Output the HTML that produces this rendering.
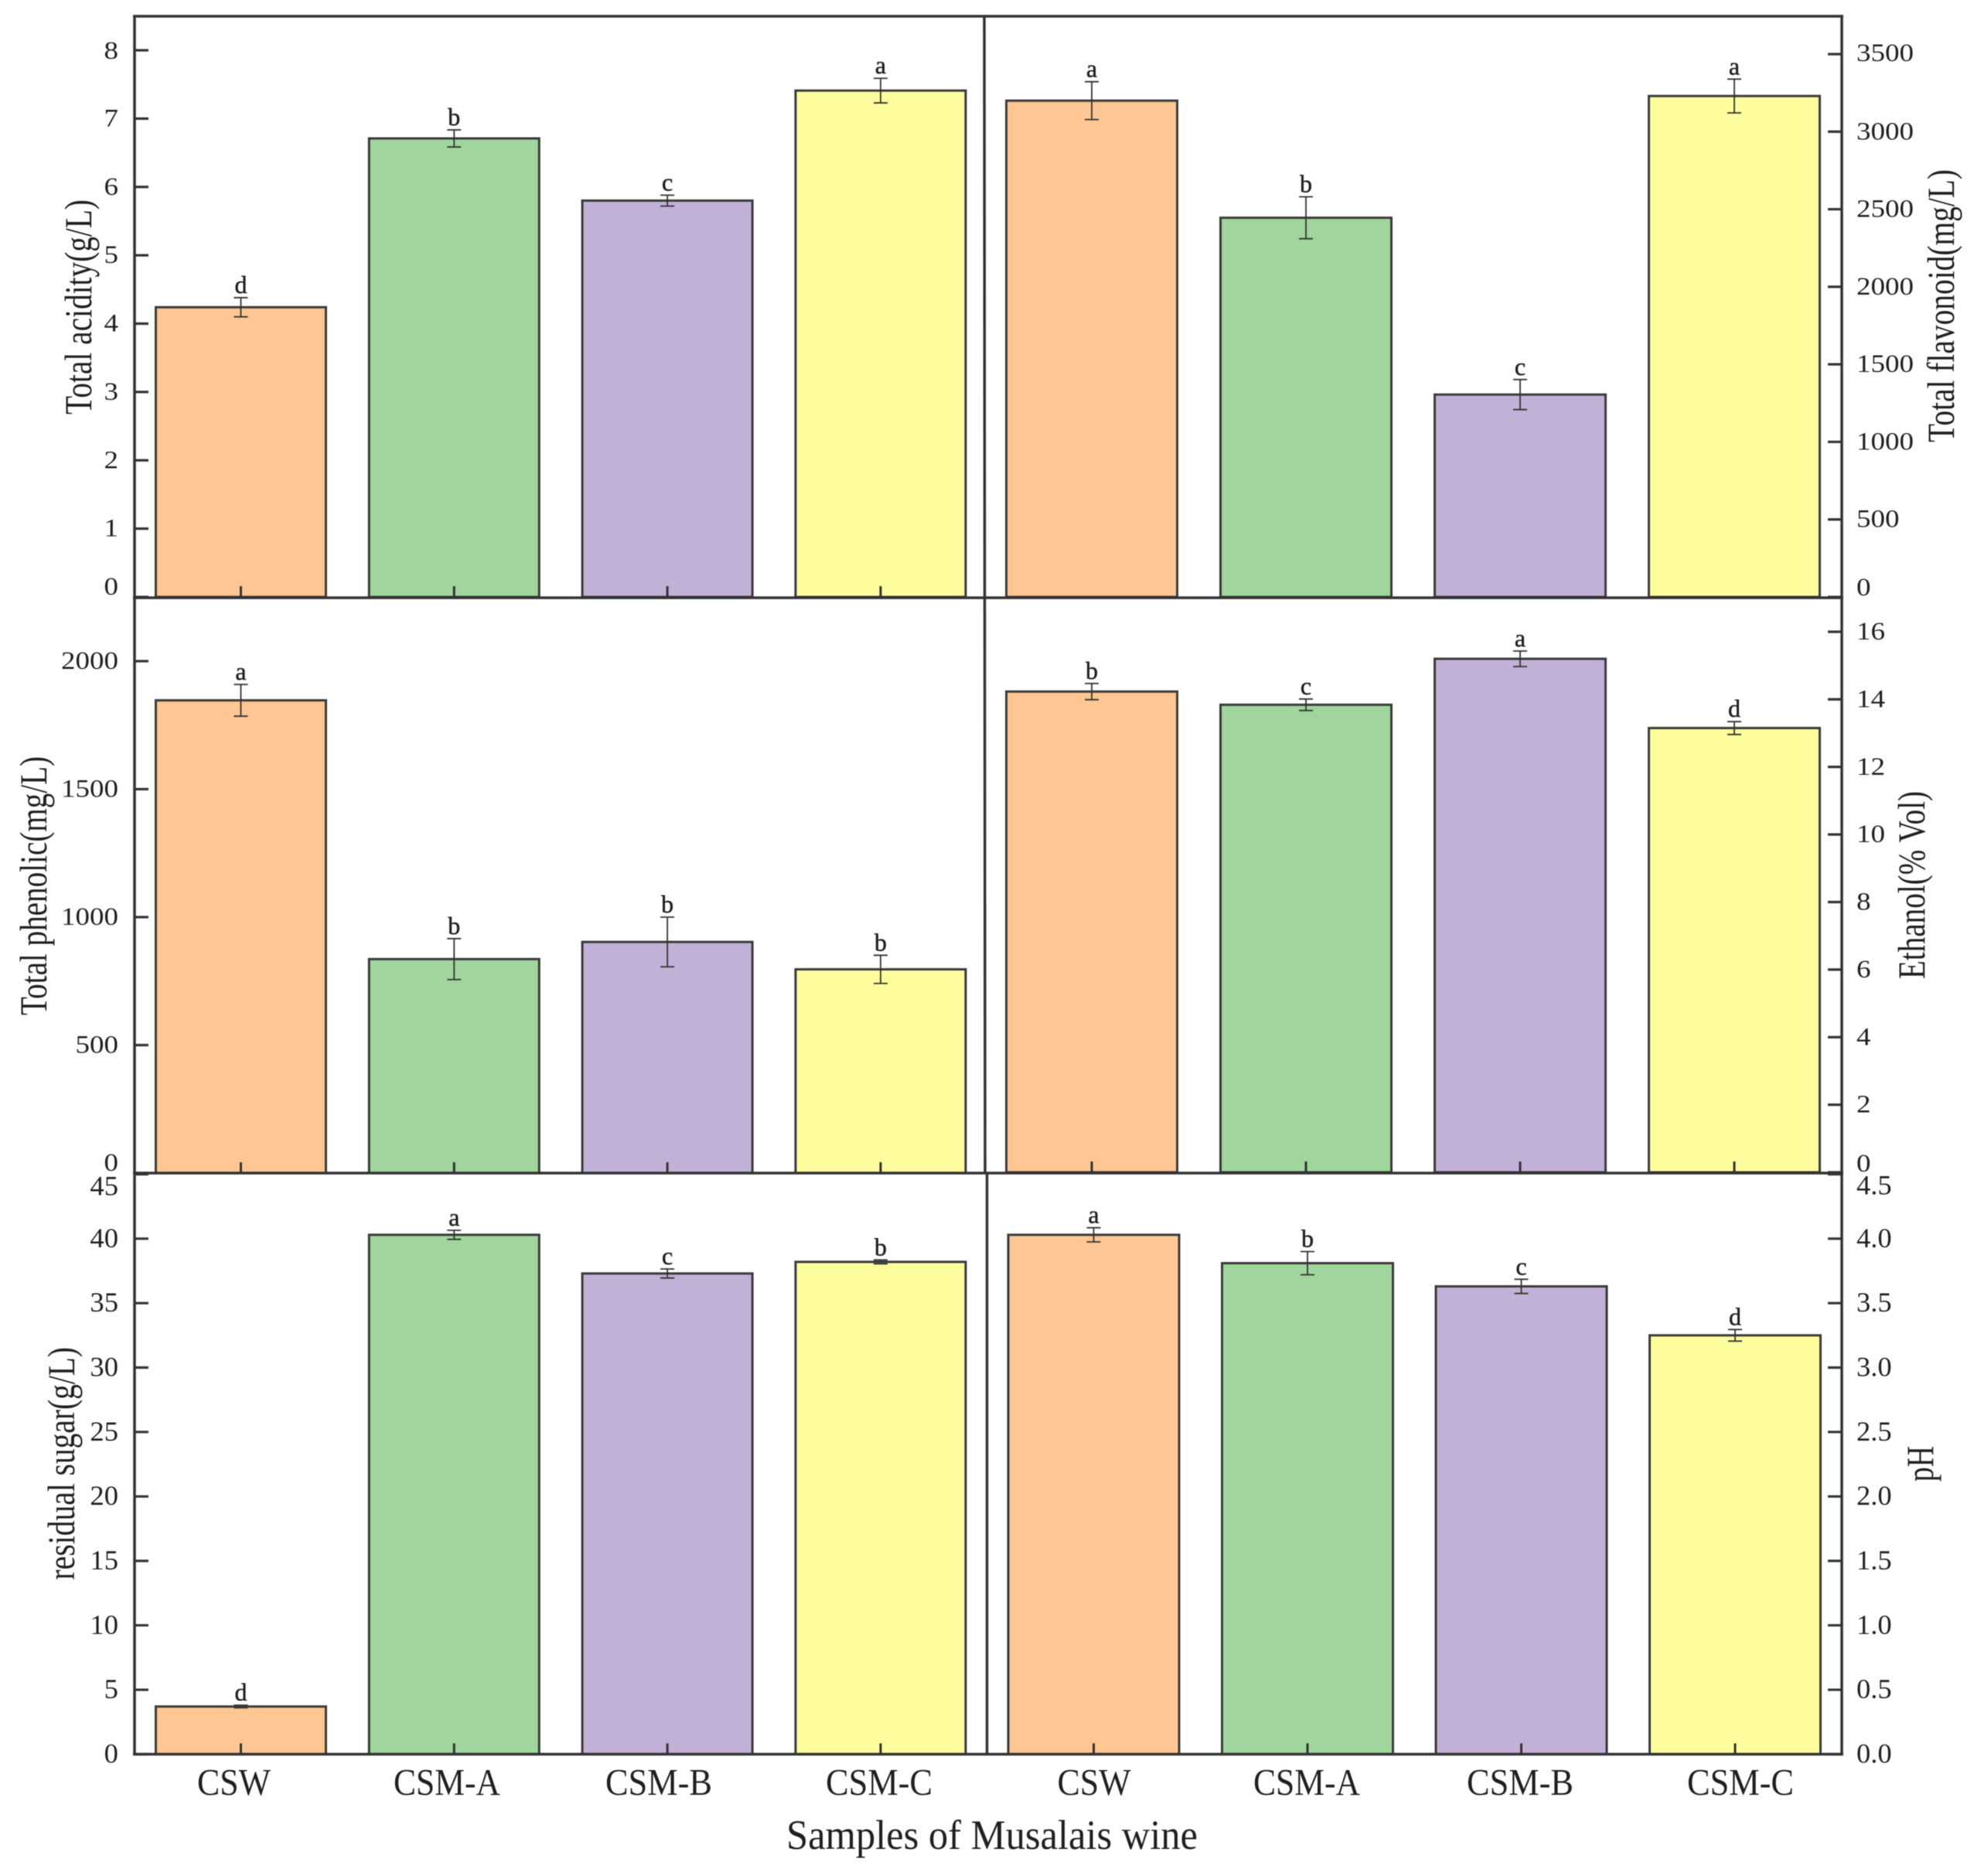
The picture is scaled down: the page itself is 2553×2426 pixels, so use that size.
<!DOCTYPE html>
<html lang="en">
<head>
<meta charset="utf-8">
<title>Samples of Musalais wine</title>
<style>
  html, body { margin: 0; padding: 0; background: #fff; }
  svg { display: block; filter: blur(0.6px); }
  text { font-family: "Liberation Serif", "Times New Roman", serif; fill: #1f1f1f; }
</style>
</head>
<body>
<svg id="chart" xmlns="http://www.w3.org/2000/svg" width="2553" height="2426" viewBox="0 0 2553 2426">
  <rect x="0" y="0" width="2553" height="2426" fill="#fff"/>
  <g id="panels"></g>
  <g id="frame" stroke="#333" stroke-width="3.5" fill="none">
    <line x1="172" y1="21" x2="2384" y2="21"/>
    <line x1="172" y1="773" x2="2384" y2="773"/>
    <line x1="172" y1="1517" x2="2384" y2="1517"/>
    <line x1="172" y1="2268.5" x2="2384" y2="2268.5"/>
    <line x1="174" y1="20" x2="174" y2="2270"/>
    <line x1="1273" y1="20" x2="1274" y2="1517"/>
    <line x1="1276.5" y1="1517" x2="1276.5" y2="2270"/>
    <line x1="2382" y1="20" x2="2382" y2="2270"/>
  </g>
  <g id="labels"></g>
  <text x="1017" y="2391" font-size="54" textLength="532" lengthAdjust="spacingAndGlyphs">Samples of Musalais wine</text>
</svg>
<script>
// Shared categories
const categories = ['CSW', 'CSM-A', 'CSM-B', 'CSM-C'];
const barColors = ['#FDC692', '#A0D69D', '#C2B1D6', '#FEFD9E'];

// Total acidity
const acidityValues = [4.24, 6.71, 5.80, 7.41];
const acidityErrors = [0.14, 0.125, 0.08, 0.18];
const acidityLetters = ['d', 'b', 'c', 'a'];
const acidityTicks = [0, 1, 2, 3, 4, 5, 6, 7, 8];
const acidityTickLabels = ['0', '1', '2', '3', '4', '5', '6', '7', '8'];

// Total flavonoid
const flavonoidValues = [3200, 2445, 1305, 3230];
const flavonoidErrors = [122, 135, 97, 109];
const flavonoidLetters = ['a', 'b', 'c', 'a'];
const flavonoidTicks = [0, 500, 1000, 1500, 2000, 2500, 3000, 3500];
const flavonoidTickLabels = ['0', '500', '1000', '1500', '2000', '2500', '3000', '3500'];

// Total phenolic
const phenolicValues = [1847, 836, 903, 796];
const phenolicErrors = [62, 80, 97, 55];
const phenolicLetters = ['a', 'b', 'b', 'b'];
const phenolicTicks = [0, 500, 1000, 1500, 2000];
const phenolicTickLabels = ['0', '500', '1000', '1500', '2000'];

// Ethanol
const ethanolValues = [14.23, 13.84, 15.2, 13.15];
const ethanolErrors = [0.24, 0.17, 0.23, 0.19];
const ethanolLetters = ['b', 'c', 'a', 'd'];
const ethanolTicks = [0, 2, 4, 6, 8, 10, 12, 14, 16];
const ethanolTickLabels = ['0', '2', '4', '6', '8', '10', '12', '14', '16'];

// Residual sugar
const sugarValues = [3.7, 40.3, 37.3, 38.2];
const sugarErrors = [0.1, 0.35, 0.35, 0.15];
const sugarLetters = ['d', 'a', 'c', 'b'];
const sugarTicks = [0, 5, 10, 15, 20, 25, 30, 35, 40, 45];
const sugarTickLabels = ['0', '5', '10', '15', '20', '25', '30', '35', '40', '45'];

// pH
const phValues = [4.03, 3.81, 3.63, 3.25];
const phErrors = [0.055, 0.09, 0.055, 0.045];
const phLetters = ['a', 'b', 'c', 'd'];
const phTicks = [0, 0.5, 1, 1.5, 2, 2.5, 3, 3.5, 4, 4.5];
const phTickLabels = ['0.0', '0.5', '1.0', '1.5', '2.0', '2.5', '3.0', '3.5', '4.0', '4.5'];

const NS = 'http://www.w3.org/2000/svg';
const panelsRoot = document.getElementById('panels');
const labelsRoot = document.getElementById('labels');

function make(tag, attrs, parent) {
  const el = document.createElementNS(NS, tag);
  for (const k in attrs) el.setAttribute(k, attrs[k]);
  parent.appendChild(el);
  return el;
}

function drawPanel(p) {
  const g = make('g', {}, panelsRoot);
  
  

  const yScale = v => p.yBase - (v - p.domain[0]) * (p.yBase - p.yTop) / (p.domain[1] - p.domain[0]);
  const xScale = i => p.x0 + p.step * i;

  // bars
  p.values.forEach((v, i) => {
    const top = yScale(v);
    const bar = make('rect', {
      x: xScale(i) - p.barW / 2, y: top, width: p.barW, height: p.yBase - top,
      fill: barColors[i], stroke: '#3a3a3a', 'stroke-width': 3
    }, g);
    
    
  });

  // error bars and significance letters
  p.values.forEach((v, i) => {
    const cx = xScale(i);
    const hi = yScale(v + p.errors[i]);
    const lo = yScale(v - p.errors[i]);
    const err = make('path', {
      d: 'M' + (cx - 9) + ' ' + hi + 'H' + (cx + 9) + 'M' + cx + ' ' + hi + 'V' + lo + 'M' + (cx - 9) + ' ' + lo + 'H' + (cx + 9),
      stroke: '#333', 'stroke-width': 1.8, fill: 'none'
    }, g);
    
    

    const letter = make('text', {
      x: cx, y: hi - 6, 'font-size': 32, 'text-anchor': 'middle',
      stroke: '#1f1f1f', 'stroke-width': 0.5
    }, g);
    letter.textContent = p.letters[i];
    
    

    if (p.xTicks) {
      const xt = make('line', {
        x1: cx, y1: p.yBase - 14, x2: cx, y2: p.yBase, stroke: '#333', 'stroke-width': 3
      }, g);
      
      
    }
  });

  // y ticks and labels
  p.ticks.forEach((t, i) => {
    const y = yScale(t);
    const dir = p.side === 'left' ? 1 : -1;
    const tick = make('line', {
      x1: p.axisX, y1: y, x2: p.axisX + dir * 18, y2: y, stroke: '#333', 'stroke-width': 3.2
    }, g);
    
    

    let shift = 0;
    if (i === 0) shift = p.firstShift;
    if (i === p.ticks.length - 1) shift = p.lastShift;
    const s = p.tickLabels[i];
    let w = 0;
    for (const ch of s) w += ch === '.' ? 9 : p.digitW;
    const lx = p.side === 'left' ? 153 - w : 2401;
    const label = make('text', {
      x: lx, y: y + shift + p.labelDy, 'font-size': p.tickFont, textLength: w, lengthAdjust: 'spacingAndGlyphs'
    }, g);
    label.textContent = s;
    
    
  });

  // y axis title
  const title = make('text', {
    x: 0, y: 0, 'font-size': p.titleFont,
    transform: 'translate(' + p.titleX + ' ' + p.titleBottom + ') rotate(-90)',
    textLength: p.titleLen, lengthAdjust: 'spacingAndGlyphs'
  }, g);
  title.textContent = p.title;
  
  
}

const leftLayout = { side: 'left', axisX: 174, x0: 311.5, step: 275.8, barW: 220 };
const rightLayout = { side: 'right', axisX: 2382, x0: 1412, step: 277, barW: 221 };

drawPanel(Object.assign({}, leftLayout, {
  key: 'total-acidity', values: acidityValues, errors: acidityErrors, letters: acidityLetters,
  ticks: acidityTicks, tickLabels: acidityTickLabels, domain: [0, 8], yBase: 772, yTop: 65,
  xTicks: true, firstShift: -13, lastShift: 1, digitW: 18.5, tickFont: 33, labelDy: 10,
  title: 'Total acidity(g/L)', titleX: 118, titleBottom: 536, titleLen: 278, titleFont: 50
}));
drawPanel(Object.assign({}, rightLayout, {
  key: 'total-flavonoid', values: flavonoidValues, errors: flavonoidErrors, letters: flavonoidLetters,
  ticks: flavonoidTicks, tickLabels: flavonoidTickLabels, domain: [0, 3500], yBase: 772, yTop: 70,
  xTicks: false, firstShift: -12, lastShift: -1, digitW: 18.5, tickFont: 33, labelDy: 10,
  title: 'Total flavonoid(mg/L)', titleX: 2527, titleBottom: 572, titleLen: 353, titleFont: 50
}));
drawPanel(Object.assign({}, leftLayout, {
  key: 'total-phenolic', values: phenolicValues, errors: phenolicErrors, letters: phenolicLetters,
  ticks: phenolicTicks, tickLabels: phenolicTickLabels, domain: [0, 2000], yBase: 1517, yTop: 855,
  xTicks: true, firstShift: -13, lastShift: 0, digitW: 18.5, tickFont: 33, labelDy: 10,
  title: 'Total phenolic(mg/L)', titleX: 60, titleBottom: 1313, titleLen: 335, titleFont: 50
}));
drawPanel(Object.assign({}, rightLayout, {
  key: 'ethanol', values: ethanolValues, errors: ethanolErrors, letters: ethanolLetters,
  ticks: ethanolTicks, tickLabels: ethanolTickLabels, domain: [0, 16], yBase: 1516, yTop: 817,
  xTicks: true, firstShift: -11, lastShift: 0, digitW: 18.5, tickFont: 33, labelDy: 10,
  title: 'Ethanol(% Vol)', titleX: 2489, titleBottom: 1266, titleLen: 243, titleFont: 50
}));
drawPanel(Object.assign({}, leftLayout, {
  key: 'residual-sugar', values: sugarValues, errors: sugarErrors, letters: sugarLetters,
  ticks: sugarTicks, tickLabels: sugarTickLabels, domain: [0, 45], yBase: 2268.5, yTop: 1518.5,
  xTicks: true, firstShift: 0, lastShift: 16, digitW: 18.3, tickFont: 36, labelDy: 11,
  title: 'residual sugar(g/L)', titleX: 96, titleBottom: 2043, titleLen: 301, titleFont: 50
}));
drawPanel(Object.assign({}, rightLayout, {
  x0: 1414.5, step: 276.5,
  key: 'ph', values: phValues, errors: phErrors, letters: phLetters,
  ticks: phTicks, tickLabels: phTickLabels, domain: [0, 4.5], yBase: 2268.5, yTop: 1518.5,
  xTicks: true, firstShift: 0, lastShift: 15, digitW: 18.3, tickFont: 36, labelDy: 11,
  title: 'pH', titleX: 2500, titleBottom: 1916, titleLen: 46, titleFont: 50
}));

// Category labels beneath the two bottom panels
const labelAnchors = [255, 509, 783, 1068, 1367.5, 1621, 1897, 2182];
labelAnchors.forEach((x, i) => {
  const t = make('text', {
    x: x, y: 2321, 'font-size': 49,
    textLength: i % 4 === 0 ? 95 : 138, lengthAdjust: 'spacingAndGlyphs'
  }, labelsRoot);
  t.textContent = categories[i % 4];
  
  
});
</script>
</body>
</html>
